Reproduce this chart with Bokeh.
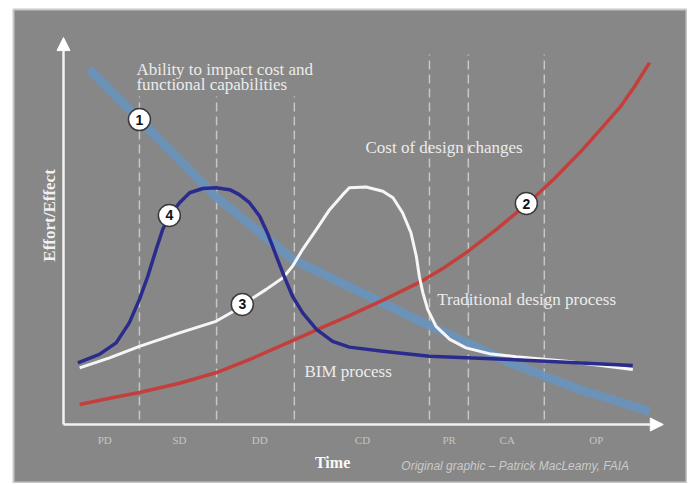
import math
from bokeh.plotting import figure
from bokeh.models import Range1d, Arrow, NormalHead
from bokeh.core.properties import value
from bokeh.embed import file_html
from bokeh.resources import INLINE

# ---- data (time units 0..100 along the x arrow, effort units 0..100 along the y arrow)
phase_labels = ["PD", "SD", "DD", "CD", "PR", "CA", "OP"]
phase_label_x = [6.9, 19.4, 32.8, 50.0, 64.5, 74.2, 89.1]
phase_bounds = [12.7, 25.6, 38.6, 61.2, 67.7, 80.4]
phase_bound_top = [85.2, 85.2, 85.2, 96.1, 96.1, 96.1]

ability_x = [4.3, 12.7, 17.7, 25.6, 38.3, 47.8, 59.0, 74.6, 86.3, 98.0]
ability_y = [92.2, 79.2, 71.4, 59.0, 42.9, 35.8, 27.3, 16.1, 9.1, 3.4]

cost_x = [2.7, 7.7, 12.7, 19.4, 25.6, 31.9, 38.3, 42.8, 47.8, 53.7, 59.5, 63.7, 67.4,
          72.4, 77.4, 82.1, 86.8, 90.5, 93.0, 95.5, 98.0]
cost_y = [5.2, 6.8, 8.3, 10.7, 13.5, 17.4, 21.8, 24.9, 28.3, 32.5, 36.9, 40.8, 44.7,
          50.7, 57.1, 63.9, 71.4, 77.9, 82.3, 87.8, 94.0]

trad_x = [2.7, 7.7, 12.7, 19.4, 25.5, 28.3, 30.0, 33.9, 36.7, 38.3, 40.0, 42.3, 44.5,
          46.7, 47.8, 50.6, 53.4, 55.1, 56.7, 58.1, 59.0, 59.5, 60.1, 60.9, 62.3,
          64.6, 67.3, 71.2, 75.7, 84.1, 95.2]
trad_y = [14.7, 17.3, 20.3, 23.8, 26.8, 29.3, 31.2, 35.1, 38.1, 41.1, 45.5, 50.7, 55.8,
          59.7, 61.5, 61.7, 60.6, 58.9, 55.0, 49.8, 43.7, 38.5, 34.2, 29.9, 25.5,
          22.1, 19.9, 18.4, 17.6, 16.4, 14.3]

bim_x = [2.4, 6.0, 8.8, 11.0, 12.7, 14.1, 15.5, 16.6, 17.7, 19.4, 21.1, 23.3, 25.5,
         27.8, 29.4, 31.1, 32.8, 34.2, 35.6, 37.0, 38.3, 40.0, 42.3, 45.0, 47.8,
         53.4, 61.2, 74.6, 95.2]
bim_y = [16.0, 18.2, 21.2, 26.4, 32.5, 38.5, 45.5, 50.7, 54.1, 57.6, 60.2, 61.3, 61.5,
         61.0, 59.7, 57.6, 54.1, 49.4, 43.7, 38.1, 33.3, 29.0, 24.7, 21.6, 20.1,
         19.0, 17.7, 16.9, 15.3]

marker_x = [12.7, 77.4, 29.9, 17.7]
marker_y = [79.2, 57.4, 31.2, 54.3]
marker_text = ["1", "2", "3", "4"]

note_x = [12.2, 12.2, 50.5, 62.5, 40.3]
note_y = [92.2, 88.3, 71.9, 32.5, 13.8]
note_text = ["Ability to impact cost and", "functional capabilities",
             "Cost of design changes", "Traditional design process", "BIM process"]

p = figure(width=687, height=483, output_backend="svg", toolbar_location=None,
           x_range=Range1d(-8.361, 104.348), y_range=Range1d(-15.325, 107.792),
           x_axis_type=None, y_axis_type=None,
           min_border_left=13, min_border_right=0, min_border_top=9, min_border_bottom=0)
p.grid.visible = False
p.background_fill_color = "#878787"
p.border_fill_color = "white"
p.outline_line_color = "#c8c8c8"
p.outline_line_width = 2

# phase boundaries
p.segment(x0=phase_bounds, y0=[1.3] * len(phase_bounds), x1=phase_bounds, y1=phase_bound_top,
          line_color="#dcdcdc", line_alpha=0.75, line_width=1.5, line_dash="9 5")

# curves
p.line(ability_x, ability_y, line_color="#6a93bd", line_alpha=0.9, line_width=9, line_cap="butt")
p.line(cost_x, cost_y, line_color="#c43f3c", line_width=3.5, line_join="round")
p.line(trad_x, trad_y, line_color="#f6f6f6", line_width=3, line_join="round")
p.line(bim_x, bim_y, line_color="#2b2b8e", line_width=3.5, line_join="round")

# axes arrows
head = dict(size=13, fill_color="white", line_color="white")
p.add_layout(Arrow(end=NormalHead(**head), x_start=0, y_start=0, x_end=100.3, y_end=0,
                   line_color="#f2f2f2", line_width=2.5))
p.add_layout(Arrow(end=NormalHead(**head), x_start=0, y_start=0, x_end=0, y_end=100.5,
                   line_color="#f2f2f2", line_width=2.5))

# numbered markers
p.scatter(marker_x, marker_y, size=22, fill_color="white", line_color="#3a3a3a", line_width=1.5)
p.text(marker_x, marker_y, text=marker_text, text_align="center", text_baseline="middle",
       text_font=value("Liberation Sans"), text_font_style="bold", text_font_size="14px",
       text_color="#111111")

# annotations
p.text(note_x, note_y, text=note_text, text_align="left", text_baseline="middle",
       text_font=value("Liberation Serif"), text_font_size="17px", text_color="#ececec")

# phase labels
p.text(phase_label_x, [-4.0] * len(phase_labels), text=phase_labels, text_align="center",
       text_baseline="middle", text_font=value("Liberation Serif"), text_font_size="11px",
       text_color="#c4c4c4")

# axis titles
p.text([45.0], [-9.8], text=["Time"], text_align="center", text_baseline="middle",
       text_font=value("Liberation Serif"), text_font_style="bold", text_font_size="16px",
       text_color="#f8f8f8")
p.text([-2.4], [54.3], text=["Effort/Effect"], angle=math.pi / 2, text_align="center",
       text_baseline="middle", text_font=value("Liberation Serif"), text_font_style="bold",
       text_font_size="17px", text_color="#f0f0f0")

# credit
p.text([56.5], [-10.9], text=["Original graphic \u2013 Patrick MacLeamy, FAIA"], text_align="left",
       text_baseline="middle", text_font=value("Liberation Sans"), text_font_style="italic",
       text_font_size="12px", text_color="#cacaca")

open("out.html", "w").write(file_html(p, INLINE))
